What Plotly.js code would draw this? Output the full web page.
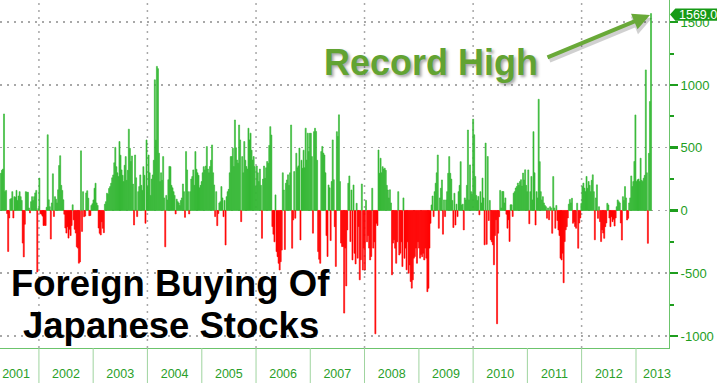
<!DOCTYPE html>
<html>
<head>
<meta charset="utf-8">
<script src="https://cdn.plot.ly/plotly-3.0.1.min.js"></script>
<style>
html,body{margin:0;padding:0;background:#fff;}
#chart{width:717px;height:383px;}
</style>
</head>
<body>
<div id="chart"></div>
<script>
// Weekly net foreign buying of Japanese stocks (billion yen), week ending Friday
const firstWeek = '2001-04-20';
const v2001 = [296, 320, 330, 769, 150, 160, -25, -327, -60, 90, 95, 150, -60, 110, 105, 160, 80, 115, 150, 110, 80, -260, -370, -110, 150, 145, 145, 20, -20, 70, 110, 80, 110, 140, 160, -490, 15];
const v2002 = [258, -25, -30, -45, -120, -118, -120, 25, 603, 85, 30, -228, 60, 292, -48, 110, 90, 60, 165, 358, 436, 200, 160, 85, -30, -140, -180, -130, -220, -150, -200, -120, 45, -75, -150, -180, -290, -300, -420, -410, 475, -167, 150, -50, -45, 140, 157, 98, -42, -40, 40, 53];
const v2003 = [84, 177, 217, 60, 40, -140, -182, -195, -90, -142, -177, 50, 70, 137, 130, 175, 190, 217, 260, 283, 380, 503, 349, 300, 270, 549, 440, 323, 280, 230, 360, 429, 240, 320, 648, 495, 390, 434, 210, -116, 442, 260, -49, 150, 190, 283, 200, 160, 349, 280, -102, 562];
const v2004 = [190, 442, 300, 120, 250, 283, 400, 1041, 560, 1148, 1130, 456, 230, 300, 240, 429, 100, -290, 120, 84, 245, 351, 349, 200, 180, 150, 120, -28, 90, 70, 60, 40, 80, 100, 211, 150, -55, 469, 323, 150, -28, 150, 250, 270, 323, 200, 469, 328, 300, 280, 180, 200, 230];
const v2005 = [300, 349, 323, 354, 509, 330, 300, 350, 400, 522, 300, 203, -49, 150, -121, -25, 60, 70, 190, 100, -49, 80, -275, 110, 150, 168, 300, 429, 430, 495, 350, 721, 500, 402, 377, 681, 562, -89, 429, 300, 549, 400, 350, 330, 655, 562, 616, 480, 402, 429, 350, 191];
const v2006 = [354, 300, 230, 330, 200, -222, 250, 354, 256, 340, 390, 376, 518, 668, 601, -128, -189, -250, 124, -328, -368, -421, -474, -408, -316, 300, 163, -311, 217, 243, 284, 200, 300, 681, -301, -76, 310, -62, 456, 340, 355, 497, -235, 400, 336, 480, 340, 656, 402, 616, 469, 615];
const v2007 = [615, 429, -181, 628, 655, 630, 400, -328, -389, -421, 469, 510, 457, 442, 300, -200, -367, 203, 180, -240, 231, 562, 245, -129, -446, 628, 590, 762, 230, -260, -288, -287, -818, -300, -601, -155, 217, 275, -248, 163, -394, 203, -341, -426, 57, -380, -128, -553, -393, 211, -474, -300];
const v2008 = [-474, 80, -250, -200, -300, -394, -367, 177, -300, -250, -983, -102, -120, 482, 296, 416, 300, 349, 330, 337, 320, 200, 163, 100, 165, 60, -513, -260, -234, -301, -421, -250, 150, -355, -340, -250, -447, 100, -381, -300, -473, -250, -500, -434, -566, -619, -553, -380, -367, -300, -421, -250];
const v2009 = [-300, -380, -350, -368, -341, -394, -300, -380, -647, -620, -300, -102, 44, 115, -49, 150, 217, 300, 442, -142, 100, 177, 243, -189, 84, -49, 84, 150, 296, 429, 296, 250, 80, -136, 137, -116, 50, -49, 150, 200, 389, 44, 50, -155, 100, 84, 200, 641, 84, 363, 150, 130];
const v2010 = [728, 603, 271, 120, 80, 112, -35, 150, 60, 258, 100, -274, 537, -270, 430, -80, 80, -234, -250, -274, -433, -200, -74, -903, -181, -50, 160, 20, 151, 151, 60, 100, -30, -141, -74, -247, 45, 45, -48, 138, 150, 178, 190, 218, 200, 230, 245, 195, 298, 243, 324, 200, 150];
const v2011 = [323, -106, 150, 271, 84, 628, 300, -116, 150, 100, 886, 389, 150, 84, 110, 60, 40, 30, -62, 20, -74, 30, 20, -182, 270, 20, -142, 40, -80, -155, -200, -381, -394, -340, -576, -248, -154, -129, -60, 50, 88, 60, 97, -102, -90, -128, -142, 58, -301, -100, -60, 56];
const v2012 = [190, 218, 178, 150, 271, 177, 231, 200, 150, 240, 284, 150, -234, 100, 204, -63, 30, -89, -248, -155, -180, -222, -129, -100, 57, 44, -60, -129, -50, -89, -70, -124, -60, 30, 84, 70, 60, -100, -236, 110, 80, 190, 100, -76, -63, 60, 100, 275, 190, 230, 390, 761];
const v2013 = [230, 244, 250, 230, 416, 240, 230, 257, 280, 1120, 300, -262, 455, 868, 1569];

const yearLabels = ['2001','2002','2003','2004','2005','2006','2007','2008','2009','2010','2011','2012','2013'];
const yearLabelDates = ['2001-07-31','2002-07-02','2003-07-02','2004-07-02','2005-07-02','2006-07-02','2007-07-02','2008-07-02','2009-07-02','2010-07-02','2011-07-02','2012-07-02','2013-05-22'];
const yearStarts = ['2002-01-01','2003-01-01','2004-01-01','2005-01-01','2006-01-01','2007-01-01','2008-01-01','2009-01-01','2010-01-01','2011-01-01','2012-01-01','2013-01-01'];
const gridYearStarts = ['2002-01-01','2004-01-01','2006-01-01','2008-01-01','2010-01-01','2012-01-01'];
const yTickVals = [-1000, -500, 0, 500, 1000, 1500];
const yTickText = ['-1000', '-500', '0', '500', '1000', '1500'];
const lastValueText = '1569.0';

const values = [].concat(v2001, v2002, v2003, v2004, v2005, v2006, v2007, v2008, v2009, v2010, v2011, v2012, v2013);
const t0 = Date.parse(firstWeek + 'T00:00:00Z');
const dates = values.map((_, i) => new Date(t0 + i * 7 * 86400000).toISOString().slice(0, 10));

const GREEN = '#36b836';
const RED = '#ff0000';
const AXGREEN = '#1e9e1e';
const LINEGREEN = '#6cc46c';
const GRID = '#a8a8a8';
const FONT = 'Liberation Sans, Arial, sans-serif';

const barColors = values.map(v => v >= 0 ? GREEN : RED);
const trace = {
  type: 'bar',
  x: dates,
  y: values,
  marker: {color: barColors, line: {width: 0.6, color: barColors}},
  hoverinfo: 'skip'
};

const shapes = [];
yearStarts.forEach(d => shapes.push({
  type: 'line', xref: 'x', yref: 'paper', x0: d, x1: d, y0: -0.1006, y1: 0,
  line: {color: '#9fd49f', width: 1}
}));
gridYearStarts.forEach(d => shapes.push({
  type: 'line', xref: 'x', yref: 'paper', x0: d, x1: d, y0: 0, y1: 1, layer: 'below',
  line: {color: GRID, width: 1.5, dash: '2px,5px'}
}));
// last value tag
shapes.push({
  type: 'path', xref: 'paper', yref: 'y',
  path: 'M 1.0015 1561 L 1.0095 1610 L 1.08 1610 L 1.08 1512 L 1.0095 1512 Z',
  fillcolor: '#169a16', line: {width: 0}
});

const annotations = [
  {xref: 'paper', yref: 'paper', x: 0.9746, y: 0.9483, ax: -104, ay: 43, text: '', showarrow: true,
   arrowhead: 2, arrowsize: 0.85, arrowwidth: 4.5, arrowcolor: 'rgba(0,0,0,0.18)', standoff: 0},
  {xref: 'paper', yref: 'paper', x: 0.9716, y: 0.9569, ax: -104, ay: 43, text: '', showarrow: true,
   arrowhead: 2, arrowsize: 0.85, arrowwidth: 4, arrowcolor: '#69a938', standoff: 0},
  {xref: 'paper', yref: 'paper', x: 0.6435, y: 0.8204, xanchor: 'center', yanchor: 'middle',
   text: 'Record High', showarrow: false,
   font: {family: FONT, size: 36, weight: 700, color: '#62a332', shadow: '2px 2px 3px rgba(0,0,0,0.35)'}},
  {xref: 'paper', yref: 'paper', x: 0.2556, y: 0.1862, xanchor: 'center', yanchor: 'middle',
   text: 'Foreign Buying Of', showarrow: false,
   font: {family: FONT, size: 36.5, weight: 700, color: '#000'}},
  {xref: 'paper', yref: 'paper', x: 0.2556, y: 0.0638, xanchor: 'center', yanchor: 'middle',
   text: 'Japanese Stocks', showarrow: false,
   font: {family: FONT, size: 36.5, weight: 700, color: '#000'}},
  {xref: 'paper', yref: 'y', x: 1.012, y: 1561, xanchor: 'left', yanchor: 'middle',
   text: lastValueText, showarrow: false,
   font: {family: FONT, size: 12.5, color: '#ffffff'}}
];

const layout = {
  width: 717, height: 383,
  margin: {l: 0, r: 48, t: 0, b: 35, pad: 0},
  paper_bgcolor: '#ffffff', plot_bgcolor: '#ffffff',
  showlegend: false,
  bargap: 0,
  xaxis: {
    type: 'date', range: ['2001-04-14', '2013-08-11'],
    showgrid: false, zeroline: false,
    showline: true, linecolor: LINEGREEN, linewidth: 1,
    ticks: '', tickmode: 'array', tickvals: yearLabelDates, ticktext: yearLabels,
    tickfont: {family: FONT, size: 12.5, color: '#2aa02a'},
    ticklabelstandoff: 14,
    fixedrange: true
  },
  yaxis: {
    side: 'right', range: [-1096, 1677],
    tickmode: 'array', tickvals: yTickVals, ticktext: yTickText,
    ticks: 'outside', ticklen: 8, tickwidth: 2.5, tickcolor: AXGREEN,
    tickfont: {family: FONT, size: 13, color: AXGREEN},
    showline: true, linecolor: LINEGREEN, linewidth: 1,
    showgrid: true, gridcolor: GRID, gridwidth: 1.5, griddash: '2px,5px',
    zeroline: false,
    minor: {dtick: 250, tick0: 0, ticks: 'outside', ticklen: 4, tickwidth: 2, tickcolor: AXGREEN, showgrid: false},
    fixedrange: true
  },
  shapes: shapes,
  annotations: annotations
};

Plotly.newPlot('chart', [trace], layout, {staticPlot: true, displayModeBar: false});
</script>
</body>
</html>
